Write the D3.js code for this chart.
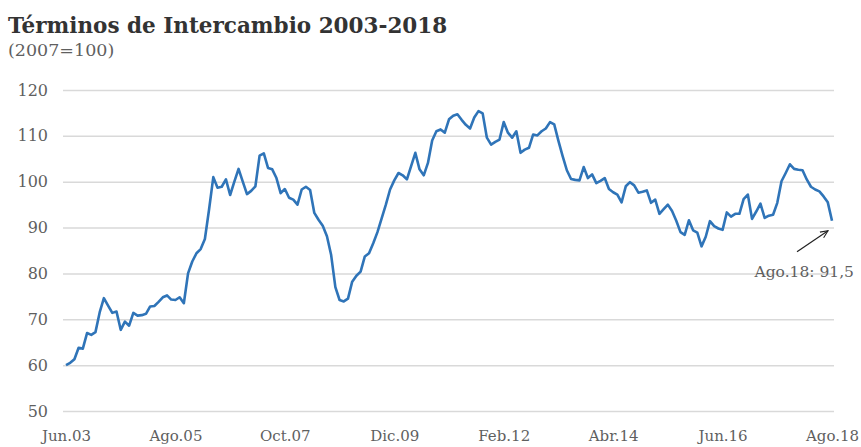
<!DOCTYPE html>
<html>
<head>
<meta charset="utf-8">
<script src="https://cdn.jsdelivr.net/npm/d3@7"></script>
<style>
  body { margin: 0; background: #fff; }
  svg { display: block; }
</style>
</head>
<body>
<script>
// monthly terms of trade index, Jun.2003 .. Ago.2018 (2007=100)
const startYear = 2003, startMonth = 5; // 0-based: June
const monthNames = ["Ene","Feb","Mar","Abr","May","Jun","Jul","Ago","Sep","Oct","Nov","Dic"];
const values = [
  60.0, 60.5, 61.3, 63.8, 63.6, 67.0, 66.6, 67.2, 71.5, 74.6,
  73.0, 71.4, 71.7, 67.7, 69.5, 68.6, 71.4, 70.8, 70.9, 71.2,
  72.8, 72.9, 73.8, 74.8, 75.2, 74.3, 74.2, 74.8, 73.5, 80.0,
  82.6, 84.4, 85.3, 87.5, 94.0, 101.0, 98.7, 98.9, 100.5, 97.1,
  100.0, 102.8, 100.0, 97.3, 98.0, 99.0, 105.7, 106.2, 103.0, 102.7,
  100.8, 97.5, 98.4, 96.5, 96.1, 95.0, 98.3, 98.9, 98.2, 93.2,
  91.7, 90.4, 88.1, 84.0, 77.0, 74.2, 73.9, 74.5, 78.2, 79.5,
  80.4, 83.7, 84.4, 86.6, 89.0, 92.0, 95.0, 98.3, 100.3, 101.9,
  101.4, 100.5, 103.4, 106.3, 102.7, 101.4, 104.1, 109.0, 111.0, 111.4,
  110.7, 113.6, 114.4, 114.7, 113.5, 112.4, 111.6, 114.0, 115.4, 114.9,
  109.6, 108.1, 108.7, 109.2, 113.0, 110.7, 109.6, 111.0, 106.3, 107.0,
  107.4, 110.3, 110.1, 111.0, 111.6, 113.0, 112.5, 108.9, 105.6, 102.5,
  100.6, 100.4, 100.3, 103.2, 100.8, 101.6, 99.7, 100.2, 100.8, 98.4,
  97.7, 97.2, 95.5, 99.0, 99.9, 99.2, 97.6, 97.8, 98.1, 95.4,
  96.1, 93.0, 94.0, 95.0, 93.6, 91.5, 89.0, 88.4, 91.6, 89.4,
  88.9, 85.9, 88.0, 91.4, 90.3, 89.8, 89.5, 93.3, 92.4, 93.0,
  93.0, 96.2, 97.2, 91.9, 93.5, 95.2, 92.1, 92.6, 92.8, 95.4,
  100.1, 101.9, 103.8, 102.8, 102.6, 102.5, 100.5, 98.9, 98.3, 97.9,
  96.8, 95.5, 91.5
];
const categories = values.map((v, i) => {
  const m = startMonth + i;
  const yr = startYear + Math.floor(m / 12);
  return monthNames[m % 12] + "." + String(yr % 100).padStart(2, "0");
});
const xTickLabels = ["Jun.03", "Ago.05", "Oct.07", "Dic.09", "Feb.12", "Abr.14", "Jun.16", "Ago.18"];
const yTicks = [50, 60, 70, 80, 90, 100, 110, 120];
const lastLabel = "Ago.18: 91,5";

const W = 861, H = 447;
const svg = d3.select("body").append("svg").attr("width", W).attr("height", H);
const serif = "'DejaVu Serif', 'Liberation Serif', serif";
const grey = "#5f5f5f";

const x = d3.scalePoint().domain(categories).range([66, 832]);
const y = d3.scaleLinear().domain([50, 120]).range([411, 90]);

/* ** TITLE ** */
svg.append("text").text("Términos de Intercambio 2003-2018")
  .attr("x", 8).attr("y", 33)
  .attr("font-family", serif).attr("font-weight", "bold")
  .attr("font-size", 21.5).attr("fill", "#333");
svg.append("text").text("(2007=100)")
  .attr("x", 8).attr("y", 56)
  .attr("font-family", serif).attr("font-size", 17.5).attr("fill", grey);

/* ** AXES ** */
const yAxis = svg.append("g").attr("transform", "translate(63,0)")
  .call(d3.axisLeft(y).tickValues(yTicks).tickSize(-(834 - 63)).tickPadding(15));
yAxis.select(".domain").remove();
yAxis.selectAll(".tick line").attr("stroke", "#d9d9d9").attr("stroke-width", 1.5);
yAxis.selectAll(".tick text").attr("font-family", serif).attr("font-size", 16).attr("fill", grey);

const xAxis = svg.append("g").attr("transform", "translate(0,411)")
  .call(d3.axisBottom(x).tickValues(xTickLabels).tickSize(0).tickPadding(19));
xAxis.select(".domain").remove();
xAxis.selectAll(".tick text").attr("font-family", serif).attr("font-size", 15).attr("fill", grey);

/* ** LINE ** */
const line = d3.line().x((d, i) => x(categories[i])).y(d => y(d));
svg.append("path").datum(values)
  .attr("d", line)
  .attr("fill", "none")
  .attr("stroke", "#2f74b8")
  .attr("stroke-width", 2.6)
  .attr("stroke-linejoin", "round");

/* ** ANNOTATION ** */
svg.append("defs").append("marker")
  .attr("id", "arrow").attr("viewBox", "0 0 10 10")
  .attr("refX", 9).attr("refY", 5)
  .attr("markerWidth", 7).attr("markerHeight", 7)
  .attr("orient", "auto")
  .append("path").attr("d", "M0,1 L9,5 L0,9").attr("fill", "none").attr("stroke", "#222").attr("stroke-width", 1.3);

const lx = x(categories[categories.length - 1]), ly = y(values[values.length - 1]);
svg.append("line")
  .attr("x1", lx - 35).attr("y1", ly + 31)
  .attr("x2", lx - 4).attr("y2", ly + 10)
  .attr("stroke", "#222").attr("stroke-width", 1.2)
  .attr("marker-end", "url(#arrow)");
svg.append("text").text(lastLabel)
  .attr("x", 854).attr("y", 277).attr("text-anchor", "end")
  .attr("font-family", serif).attr("font-size", 15.5).attr("fill", grey);
</script>
</body>
</html>
